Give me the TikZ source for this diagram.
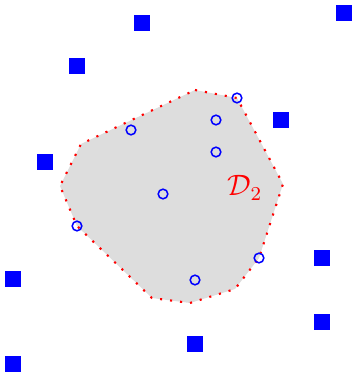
\documentclass[tikz,border=0pt]{standalone}
\definecolor{SiteBlue}{HTML}{0000FF}
\definecolor{RegionGray}{HTML}{DDDDDD}
\definecolor{RegionRed}{HTML}{FF0000}
\usepackage{tikz}
\usetikzlibrary{positioning}
\tikzset{
    % Filled square sites
    site/.style={
        rectangle,
        fill=SiteBlue,
        minimum size=0.25cm,
        inner sep=0pt
    },
    % Hollow sample points
    sample/.style={
        circle,
        draw=SiteBlue,
        line width=0.65pt,
        fill=none,
        minimum size=0.145cm,
        inner sep=0pt
    },
    region/.style={
        fill=RegionGray,
        draw=RegionRed,
        line width=0.9pt,
        dash pattern=on 0.9pt off 3.4pt
    },
    region label/.style={
        text=RegionRed,
        font=\large
    }
}

\begin{document}
\begin{tikzpicture}[x=0.015cm, y=-0.015cm]
        \useasboundingbox (0,0) rectangle (354,374);

        % Polygon corners
        \coordinate (v1) at (195,90);
        \coordinate (v2) at (237,98);
        \coordinate (v3) at (283,184);
        \coordinate (v4) at (259,258);
        \coordinate (v5) at (235,289);
        \coordinate (v6) at (190,303);
        \coordinate (v7) at (152,298);
        \coordinate (v8) at (77,226);
        \coordinate (v9) at (60,186);
        \coordinate (v10) at (81,144);

        % Region
        \path[region] (v1) -- (v2) -- (v3) -- (v4) -- (v5) -- (v6) -- (v7)
              -- (v8) -- (v9) -- (v10) -- cycle;
        \node[region label, scale=1.05] (lbl) at (245,188) {$\mathcal{D}_2$};

        % Sample points
        \node[sample] (p1) at (v2) {};
        \node[sample] (p2) at (216,120) {};
        \node[sample] (p3) at (131,130) {};
        \node[sample] (p4) at (216,152) {};
        \node[sample] (p5) at (163,194) {};
        \node[sample] (p6) at (v8) {};
        \node[sample] (p7) at (v4) {};
        \node[sample] (p8) at (195,280) {};

        % Sites
        \node[site] (s1) at (142,23) {};
        \node[site] (s2) at (344,13) {};
        \node[site] (s3) at (77,66) {};
        \node[site] (s4) at (281,120) {};
        \node[site] (s5) at (45,162) {};
        \node[site] (s6) at (13,279) {};
        \node[site] (s7) at (322,258) {};
        \node[site] (s8) at (322,322) {};
        \node[site] (s9) at (195,344) {};
        \node[site] (s10) at (13,364) {};
    \end{tikzpicture}
\end{document}
